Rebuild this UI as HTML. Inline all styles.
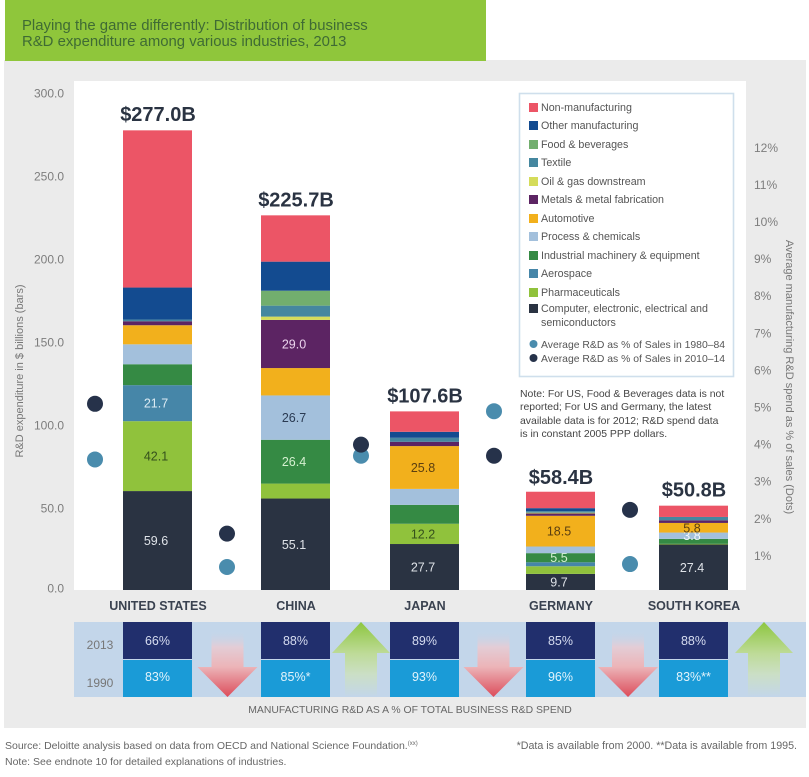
<!DOCTYPE html>
<html lang="en">
<head>
<meta charset="utf-8">
<title>Distribution of business R&amp;D expenditure among various industries, 2013</title>
<style>
html,body{margin:0;padding:0;background:#fff;width:809px;height:777px;overflow:hidden}
svg{display:block;font-family:"Liberation Sans",sans-serif}
</style>
</head>
<body>
<svg id="chart" xmlns="http://www.w3.org/2000/svg" width="809" height="777" viewBox="0 0 809 777">
  <defs>
    <linearGradient id="downGrad" x1="0" y1="0" x2="0" y2="1">
      <stop offset="0" stop-color="#c3d6ea" stop-opacity="0"/>
      <stop offset="0.25" stop-color="#e3cdd6"/>
      <stop offset="0.55" stop-color="#ecb4b8"/>
      <stop offset="1" stop-color="#dc4c5a"/>
    </linearGradient>
    <linearGradient id="upGrad" x1="0" y1="0" x2="0" y2="1">
      <stop offset="0" stop-color="#8dc63f"/>
      <stop offset="0.42" stop-color="#bedb98"/>
      <stop offset="0.7" stop-color="#cbdfc6"/>
      <stop offset="1" stop-color="#c3d6ea"/>
    </linearGradient>
  </defs>

  <rect x="4" y="60" width="802" height="668" fill="#ebebeb"/>
  <rect x="5" y="0" width="481" height="61" fill="#8fc63b"/>
  <text x="22" y="30" font-size="14.9" fill="#3f6b34">Playing the game differently: Distribution of business</text>
  <text x="22" y="46" font-size="14.9" fill="#3f6b34">R&amp;D expenditure among various industries, 2013</text>

  <rect x="74" y="81" width="672" height="509" fill="#fff"/>
  <rect x="74" y="622" width="732" height="75" fill="#c3d6ea"/>

  <g id="leftAxis"></g>
  <g id="rightAxis"></g>
  <text transform="translate(23,371) rotate(-90)" text-anchor="middle" font-size="11" fill="#777">R&amp;D expenditure in $ billions (bars)</text>
  <text transform="translate(786,377) rotate(90)" text-anchor="middle" font-size="11" fill="#777">Average manufacturing R&amp;D spend as % of sales (Dots)</text>

  <g id="bars"></g>
  <g id="dots"></g>
  <g id="table"></g>

  <g font-size="10.7" fill="#555">
    <rect x="519.5" y="93.5" width="214" height="283" fill="#fff" stroke="#cfdfec" stroke-width="1.6"/>
    <g><rect x="529" y="103" width="9" height="9" fill="#ec5566"/><text x="541" y="111">Non-manufacturing</text></g>
    <g><rect x="529" y="121" width="9" height="9" fill="#134b90"/><text x="541" y="129">Other manufacturing</text></g>
    <g><rect x="529" y="140" width="9" height="9" fill="#72ae6e"/><text x="541" y="148">Food &amp; beverages</text></g>
    <g><rect x="529" y="158" width="9" height="9" fill="#45879f"/><text x="541" y="166">Textile</text></g>
    <g><rect x="529" y="177" width="9" height="9" fill="#d5dc5a"/><text x="541" y="185">Oil &amp; gas downstream</text></g>
    <g><rect x="529" y="195" width="9" height="9" fill="#5c2463"/><text x="541" y="203">Metals &amp; metal fabrication</text></g>
    <g><rect x="529" y="214" width="9" height="9" fill="#f2b01c"/><text x="541" y="222">Automotive</text></g>
    <g><rect x="529" y="232" width="9" height="9" fill="#a3c0dc"/><text x="541" y="240">Process &amp; chemicals</text></g>
    <g><rect x="529" y="251" width="9" height="9" fill="#358a44"/><text x="541" y="259">Industrial machinery &amp; equipment</text></g>
    <g><rect x="529" y="269" width="9" height="9" fill="#4686a8"/><text x="541" y="277">Aerospace</text></g>
    <g><rect x="529" y="288" width="9" height="9" fill="#90c23c"/><text x="541" y="296">Pharmaceuticals</text></g>
    <g><rect x="529" y="304" width="9" height="9" fill="#2a3342"/><text x="541" y="312">Computer, electronic, electrical and</text><text x="541" y="326">semiconductors</text></g>
    <g><circle cx="533.5" cy="344" r="4" fill="#4a8cad"/><text x="541" y="348" font-size="10.4">Average R&amp;D as % of Sales in 1980–84</text></g>
    <g><circle cx="533.5" cy="358" r="4" fill="#26324a"/><text x="541" y="362" font-size="10.4">Average R&amp;D as % of Sales in 2010–14</text></g>
  </g>

  <g font-size="10.45" fill="#444">
    <text x="520" y="397">Note: For US, Food &amp; Beverages data is not</text>
    <text x="520" y="410">reported; For US and Germany, the latest</text>
    <text x="520" y="424">available data is for 2012; R&amp;D spend data</text>
    <text x="520" y="437">is in constant 2005 PPP dollars.</text>
  </g>

  <text x="410" y="713" text-anchor="middle" font-size="10.4" fill="#666">MANUFACTURING R&amp;D AS A % OF TOTAL BUSINESS R&amp;D SPEND</text>

  <text x="5" y="749" font-size="10.5" fill="#666">Source: Deloitte analysis based on data from OECD and National Science Foundation.<tspan font-size="6" dy="-4">(xx)</tspan></text>
  <text x="5" y="765" font-size="10.5" fill="#666">Note: See endnote 10 for detailed explanations of industries.</text>
  <text x="797" y="749" text-anchor="end" font-size="10.7" fill="#666">*Data is available from 2000. **Data is available from 1995.</text>
</svg>

<script>
// ---------- data ----------
const countries = ["UNITED STATES", "CHINA", "JAPAN", "GERMANY", "SOUTH KOREA"];
const computerElectronic = [59.6, 55.1, 27.7, 9.7, 27.4];
const pharmaceuticals = [42.1, 9.0, 12.2, 4.6, 0.4];
const aerospace = [21.7, 0, 0, 2.4, 0];
const industrialMachinery = [12.6, 26.4, 11.4, 5.5, 3.0];
const processChemicals = [12.0, 26.7, 9.6, 4.0, 3.8];
const automotive = [11.5, 16.5, 25.8, 18.5, 5.8];
const metals = [2.4, 29.0, 2.6, 1.4, 1.6];
const oilGas = [0, 2.0, 0, 0.5, 0];
const textile = [1.0, 6.6, 2.4, 0.9, 2.0];
const foodBeverages = [0, 9.0, 0, 0, 0];
const otherManufacturing = [19.3, 17.5, 3.6, 1.8, 0];
const nonManufacturing = [94.7, 27.9, 12.3, 9.9, 6.8];
const totals = [277.0, 225.7, 107.6, 58.4, 50.8];
const salesShare1980 = [3.6, 0.7, 3.7, 4.9, 0.78];
const salesShare2010 = [5.1, 1.6, 4.0, 3.7, 2.24];
const share2013 = [66, 88, 89, 85, 88];
const share1990 = [83, 85, 93, 96, 83];
const share1990Marks = ["", "*", "", "", "**"];
const leftTicks = [0, 50, 100, 150, 200, 250, 300];
const rightTicks = [1, 2, 3, 4, 5, 6, 7, 8, 9, 10, 11, 12];

// stack order, bottom to top; `show` lists the countries whose value is printed
const stackOrder = [
  {key: "computer", values: computerElectronic, fill: "#2a3342", ink: "#dfe3e8", show: [0, 1, 2, 3, 4]},
  {key: "pharma", values: pharmaceuticals, fill: "#90c23c", ink: "#34501c", show: [0, 2]},
  {key: "aerospace", values: aerospace, fill: "#4686a8", ink: "#dcebf3", show: [0]},
  {key: "industrial", values: industrialMachinery, fill: "#358a44", ink: "#d5f0d0", show: [1, 3]},
  {key: "process", values: processChemicals, fill: "#a3c0dc", ink: "#2a3a52", inkAlt: {4: "#f2f7fb"}, show: [1, 4]},
  {key: "automotive", values: automotive, fill: "#f2b01c", ink: "#5c3f10", show: [2, 3, 4]},
  {key: "metals", values: metals, fill: "#5c2463", ink: "#ecd5ee", show: [1]},
  {key: "oil", values: oilGas, fill: "#d5dc5a", ink: "#333", show: []},
  {key: "textile", values: textile, fill: "#45879f", ink: "#fff", show: []},
  {key: "food", values: foodBeverages, fill: "#72ae6e", ink: "#fff", show: []},
  {key: "other", values: otherManufacturing, fill: "#134b90", ink: "#fff", show: []},
  {key: "nonmfg", values: nonManufacturing, fill: "#ec5566", ink: "#fff", show: []}
];

// ---------- axes ----------
const SVG_NS = "http://www.w3.org/2000/svg";
const yBars = v => 590 - v * 1.66;
const yDots = v => 593 - v * 37.1;
const bandStarts = [123, 261, 390, 526, 659];
const dotBands = [95, 227, 361, 494, 630];
const barWidth = 69;
const bandCenter = i => bandStarts[i] + barWidth / 2;
const arrowCenter = i => i < bandStarts.length - 1
  ? (bandStarts[i] + barWidth + bandStarts[i + 1]) / 2 + 1
  : bandStarts[i] + barWidth + 36;

function make(parent, tag, attrs, text) {
  const node = document.createElementNS(SVG_NS, tag);
  for (const k in attrs) node.setAttribute(k, attrs[k]);
  if (text !== undefined) node.textContent = text;
  parent.appendChild(node);
  return node;
}

const leftAxis = document.getElementById("leftAxis");
const rightAxis = document.getElementById("rightAxis");
const bars = document.getElementById("bars");
const dots = document.getElementById("dots");
const table = document.getElementById("table");

leftTicks.forEach(t => {
  const label = make(leftAxis, "text", {x: 64, y: Math.min(yBars(t) + 5.5, 592.5), "text-anchor": "end", "font-size": 12, fill: "#7d7d7d"}, t.toFixed(1));
  
  
});

rightTicks.forEach(t => {
  const label = make(rightAxis, "text", {x: 754, y: yDots(t) + 4, "font-size": 12, fill: "#7d7d7d"}, t + "%");
  
  
});

// ---------- stacked bars ----------
countries.forEach((country, i) => {
  let running = 0;
  const column = make(bars, "g", {});
  
  

  stackOrder.forEach(series => {
    const v = series.values[i];
    if (!v) return;
    const top = yBars(running + v);
    const bottom = yBars(running);
    const seg = make(column, "rect", {x: bandStarts[i], y: top, width: barWidth, height: bottom - top, fill: series.fill});
    
    
    if (series.show.includes(i)) {
      const ink = (series.inkAlt && series.inkAlt[i]) || series.ink;
      const value = make(column, "text", {x: bandCenter(i) - 1.5, y: (top + bottom) / 2 + 4.5, "text-anchor": "middle", "font-size": 12.5, fill: ink}, v.toFixed(1));
      
      
    }
    running += v;
  });

  const total = make(column, "text", {x: bandCenter(i) + 0.5, y: yBars(totals[i]) - 9, "text-anchor": "middle", "font-size": 20, "font-weight": "bold", fill: "#2a3342"}, "$" + totals[i].toFixed(1) + "B");
  
  

  const name = make(column, "text", {x: bandCenter(i) + 0.5, y: 610, "text-anchor": "middle", "font-size": 12.5, "font-weight": "bold", fill: "#3a4250"}, country);
  
  
});

// ---------- dots ----------
countries.forEach((country, i) => {
  const early = make(dots, "circle", {cx: dotBands[i], cy: yDots(salesShare1980[i]), r: 8, fill: "#4a8cad"});
  
  
  const late = make(dots, "circle", {cx: dotBands[i], cy: yDots(salesShare2010[i]), r: 8, fill: "#26324a"});
  
  
});

// ---------- table with arrows ----------
const year2013 = make(table, "text", {x: 100, y: 649, "text-anchor": "middle", "font-size": 12, fill: "#777"}, "2013");


const year1990 = make(table, "text", {x: 100, y: 687, "text-anchor": "middle", "font-size": 12, fill: "#777"}, "1990");



countries.forEach((country, i) => {
  const cellA = make(table, "rect", {x: bandStarts[i], y: 622, width: barWidth, height: 37, fill: "#212f6d"});
  
  
  const cellB = make(table, "rect", {x: bandStarts[i], y: 660, width: barWidth, height: 37, fill: "#1a9bd7"});
  
  
  const textA = make(table, "text", {x: bandCenter(i), y: 645, "text-anchor": "middle", "font-size": 12.5, fill: "#d6dcf0"}, share2013[i] + "%");
  
  
  const textB = make(table, "text", {x: bandCenter(i), y: 681, "text-anchor": "middle", "font-size": 12.5, fill: "#e2f3fb"}, share1990[i] + "%" + share1990Marks[i]);
  
  

  const c = arrowCenter(i);
  const rising = share2013[i] > share1990[i];
  const pts = rising
    ? [[c, 622], [c + 29, 653], [c + 16, 653], [c + 16, 697], [c - 16, 697], [c - 16, 653], [c - 29, 653]]
    : [[c - 16, 630], [c + 16, 630], [c + 16, 667], [c + 30, 667], [c, 697], [c - 30, 667], [c - 16, 667]];
  const arrow = make(table, "polygon", {points: pts.map(p => p.join(",")).join(" "), fill: rising ? "url(#upGrad)" : "url(#downGrad)"});
  
  
});
</script>
</body>
</html>
